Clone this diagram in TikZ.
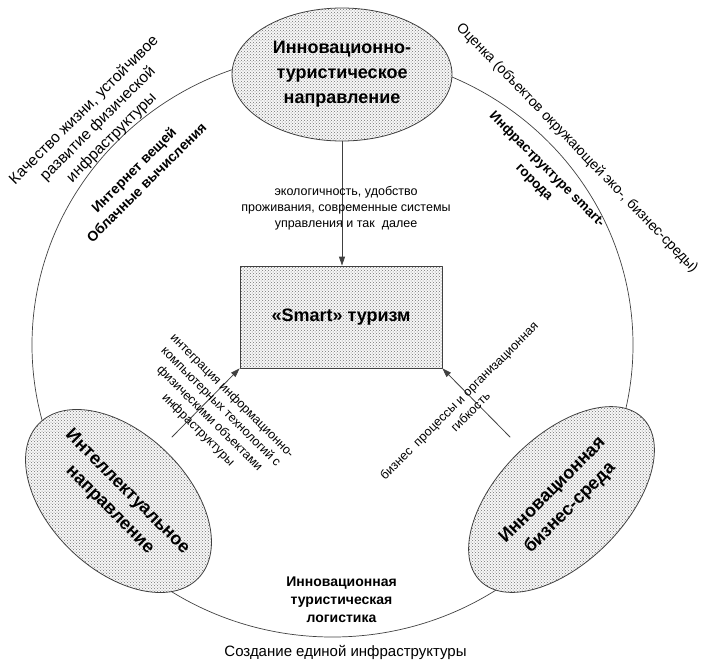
\documentclass[tikz,border=0pt]{standalone}
\usepackage{fontspec}
\setmainfont{Liberation Sans}
\usetikzlibrary{arrows.meta, patterns, shapes.geometric, positioning}
\definecolor{linegray}{rgb}{0.25, 0.25, 0.25}
\definecolor{dotgray}{rgb}{0.45, 0.45, 0.45}
\newcommand{\fsz}[2]{\fontsize{#1}{#2}\selectfont}

\tikzset{
	speckled/.style={draw=linegray, line width=0.8pt, preaction={fill=black!3}, pattern=crosshatch dots, pattern color=dotgray},
	headtxt/.style={font=\bfseries\fsz{18}{25}, align=center, inner sep=0pt},
	arrtxt/.style={font=\fsz{12.5}{16}, align=center, inner sep=0pt},
	outtxt/.style={font=\fsz{15.5}{19.5}, align=center, inner sep=0pt},
	intxt/.style={font=\bfseries\fsz{14}{18}, align=center, inner sep=0pt}
}

\begin{document}
\begin{tikzpicture}[x=1pt, y=-1pt, line cap=round, line join=round, >={Triangle[length=9pt,width=6pt]}]
		\useasboundingbox (0,0) rectangle (701,662);

		% big circle
		\draw [linegray, line width=0.7pt] (332.5,345) ellipse [x radius=300.5pt, y radius=292pt];

		% ellipses and box
		\node [speckled, ellipse, minimum width=220pt, minimum height=133pt, inner sep=0pt] (tour) at (342,74.5) {};
		\node [headtxt] (tourtxt) at (tour.center) {Инновационно-\\туристическое\\направление};

		\node [speckled, ellipse, rotate=-44, minimum width=222pt, minimum height=137pt, inner sep=0pt] (intel) at (118.5,501) {};
		\node [headtxt, rotate=-45] (inteltxt) at (intel.center) {Интеллектуальное\\направление};

		\node [speckled, ellipse, rotate=45, minimum width=230pt, minimum height=127pt, inner sep=0pt] (biz) at (561.5,499.5) {};
		\node [headtxt, rotate=45] (biztxt) at (biz.center) {Инновационная\\бизнес-среда};

		\node [speckled, rectangle, minimum width=202pt, minimum height=102pt, inner sep=0pt, font=\bfseries\fsz{18}{22}] (smart) at (341,317) {«Smart» туризм};

		% arrows
		\coordinate (la) at (172,437);
		\coordinate (ra) at (510,437);
		\draw [->, linegray, line width=0.8pt] (tour.south) -- (tour.south |- smart.north);
		\draw [->, linegray, line width=0.8pt] (la) -- (smart.south west);
		\draw [->, linegray, line width=0.8pt] (ra) -- (smart.south east);

		% arrow labels
		\node [arrtxt] (ecolbl) at (346,208) {экологичность, удобство\\проживания, современные системы\\управления и так\ \ далее};
		\node [arrtxt, rotate=-45] (intlbl) at (215,413) {интеграция информационно-\\компьютерных технологий с\\физическими объектами\\инфраструктуры};
		\node [arrtxt, rotate=45] (bizlbl) at (464.5,406) {бизнес\ \ процессы и организационная\\гибкость};

		% texts round the circle
		\node [outtxt, font=\fsz{15.5}{19.5}, rotate=45] (lifetxt) at (98,124) {Качество жизни, устойчивое\\развитие физической\\инфраструктуры};
		\node [intxt, rotate=45] (iottxt) at (140,176) {Интернет вещей\\Облачные вычисления};
		\node [outtxt, font=\fsz{14.2}{18}, rotate=-46] (evaltxt) at (577,148) {Оценка (объектов окружающей эко-, бизнес-среды)};
		\node [intxt, font=\bfseries\fsz{13.5}{18}, rotate=-45] (citytxt) at (540.5,176) {Инфраструктуре smart-\\города};
		\node [intxt] (logtxt) at (341.5,600) {Инновационная\\туристическая\\логистика};
		\node [outtxt, font=\fsz{15}{18}] (unitxt) at (345.5,652) {Создание единой инфраструктуры};
\end{tikzpicture}
\end{document}
